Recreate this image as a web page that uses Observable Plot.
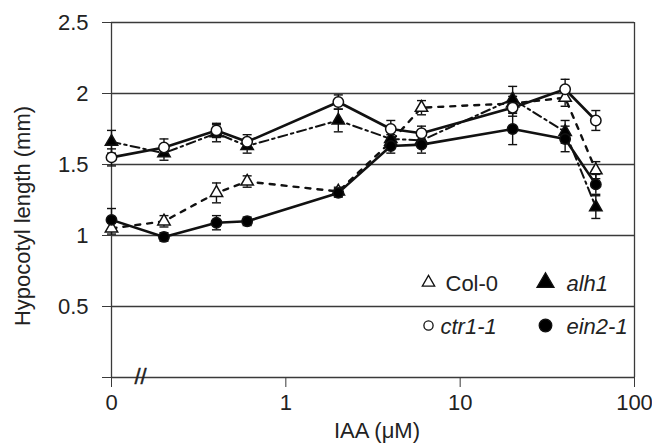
<!DOCTYPE html>
<html><head><meta charset="utf-8">
<script src="https://cdn.jsdelivr.net/npm/d3@7"></script>
<script src="https://cdn.jsdelivr.net/npm/@observablehq/plot@0.6"></script>
<style>
body{margin:0;background:#fff}
#chart{font-family:"Liberation Sans",Arial,sans-serif;width:652px;height:443px}
</style>
</head><body><div id="chart"></div>
<script>
// IAA concentrations (µM); 0 is drawn one decade below 1 on the log axis
const doses = [0, 0.2, 0.4, 0.6, 2, 4, 6, 20, 40, 60];
const col0 = [1.05, 1.10, 1.30, 1.38, 1.31, 1.66, 1.90, 1.93, 1.97, 1.46];
const col0Err = [0.04, 0.04, 0.07, 0.04, 0.03, 0.05, 0.05, 0.05, 0.06, 0.06];
const alh1 = [1.66, 1.58, 1.72, 1.63, 1.81, 1.68, 1.67, 1.96, 1.73, 1.20];
const alh1Err = [0.08, 0.05, 0.06, 0.05, 0.08, 0.05, 0.05, 0.09, 0.08, 0.08];
const ctr1 = [1.55, 1.62, 1.74, 1.66, 1.94, 1.75, 1.72, 1.90, 2.03, 1.81];
const ctr1Err = [0.06, 0.06, 0.05, 0.05, 0.05, 0.06, 0.05, 0.06, 0.07, 0.07];
const ein2 = [1.11, 0.99, 1.09, 1.10, 1.30, 1.63, 1.64, 1.75, 1.68, 1.36];
const ein2Err = [0.08, 0.03, 0.05, 0.03, 0.03, 0.05, 0.06, 0.11, 0.09, 0.07];
const xTickValues = [0, 1, 10, 100];
const xTickLabels = ["0", "1", "10", "100"];
const yTickValues = [0, 0.5, 1, 1.5, 2, 2.5];
const gridValues = [0.5, 1, 1.5, 2, 2.5];

const zeroPos = 0.1;
const xp = d => d === 0 ? zeroPos : d;

const series = [
  {name: "Col-0", values: col0, err: col0Err, symbol: "triangle", fill: "white", dash: "5,7", width: 2.4, italic: false},
  {name: "alh1", values: alh1, err: alh1Err, symbol: "triangle", fill: "black", dash: "9,4,2.5,4", width: 2, italic: true},
  {name: "ctr1-1", values: ctr1, err: ctr1Err, symbol: "circle", fill: "white", dash: null, width: 2.6, italic: true},
  {name: "ein2-1", values: ein2, err: ein2Err, symbol: "circle", fill: "black", dash: null, width: 2.6, italic: true}
];

const rows = series.map(s => doses.map((d, i) => ({
  name: s.name, x: xp(d), y: s.values[i], lo: s.values[i] - s.err[i], hi: s.values[i] + s.err[i]
})));

const cap = {draw(ctx) { ctx.moveTo(-4.5, 0); ctx.lineTo(4.5, 0); }};

const marks = [
  Plot.ruleY(gridValues, {stroke: "#3a3a3a", strokeWidth: 1.3}),
  Plot.ruleX([100], {y1: 0, y2: 2.5, stroke: "#3a3a3a", strokeWidth: 1.3}),
  Plot.ruleX([zeroPos], {y1: 0, y2: 2.5, stroke: "#3a3a3a", strokeWidth: 1.3}),
  Plot.ruleY([0], {stroke: "#3a3a3a", strokeWidth: 1.3}),
  Plot.axisY({ticks: yTickValues, tickSize: 9, tickPadding: 14, fontSize: 22, label: null, tickFormat: d => d === 0 ? "" : String(d), stroke: "#3a3a3a"}),
  Plot.axisY({ticks: yTickValues, tickSize: -9, tickFormat: () => "", label: null, stroke: "#3a3a3a"}),
  Plot.axisX({ticks: xTickValues.map(xp), tickSize: 10, tickPadding: 7, fontSize: 22, label: null,
    tickFormat: d => xTickLabels[xTickValues.map(xp).indexOf(d)], stroke: "#3a3a3a"}),
  Plot.text(["//"], {frameAnchor: "bottom-left", dx: 29, dy: -1, fontSize: 22, fill: "#222", stroke: "#222", strokeWidth: 0.4,
    textAnchor: "middle", lineAnchor: "middle"}),
  Plot.text(["Hypocotyl length (mm)"], {frameAnchor: "left", dx: -89, dy: 16, rotate: -90, fontSize: 22, fill: "#222",
    textAnchor: "middle", lineAnchor: "middle"}),
  Plot.text(["IAA (μM)"], {frameAnchor: "bottom", dx: 4, dy: 53, fontSize: 22, fill: "#222",
    textAnchor: "middle", lineAnchor: "middle"})
];

// error bars
series.forEach((s, k) => {
  marks.push(Plot.ruleX(rows[k], {x: "x", y1: "lo", y2: "hi", stroke: "#111", strokeWidth: 1.4}));
  marks.push(Plot.dot(rows[k], {x: "x", y: "lo", symbol: cap, stroke: "#111", strokeWidth: 1.4, r: 4}));
  marks.push(Plot.dot(rows[k], {x: "x", y: "hi", symbol: cap, stroke: "#111", strokeWidth: 1.4, r: 4}));
});
// lines
series.forEach((s, k) => {
  marks.push(Plot.line(rows[k], {x: "x", y: "y", stroke: "#111", strokeWidth: s.width, strokeDasharray: s.dash}));
});
// symbols
series.forEach((s, k) => {
  marks.push(Plot.dot(rows[k], {x: "x", y: "y", symbol: s.symbol, fill: s.fill, stroke: "#111", strokeWidth: 1.5,
    r: s.symbol === "circle" ? 5.2 : 4.6}));
});

// legend (two rows, two columns, inside the plot area)
series.forEach((s, k) => {
  const col = k % 2, row = Math.floor(k / 2);
  const sx = 317 + col * 117, sy = 260 + row * 43;
  const open = s.fill === "white";
  marks.push(Plot.dot([s.name], {frameAnchor: "top-left", dx: sx, dy: sy, symbol: s.symbol, fill: s.fill, stroke: "#111",
    strokeWidth: 1.3, r: open ? 4.6 : 6.3}));
  marks.push(Plot.text([s.name], {frameAnchor: "top-left", dx: sx + (open ? 17 : 21) - (row === 1 && col === 0 ? 5 : 0), dy: sy + 1,
    text: d => d, textAnchor: "start", lineAnchor: "middle", fontSize: 22, fill: "#222", fontStyle: s.italic ? "italic" : "normal"}));
});

const chart = Plot.plot({
  width: 652, height: 443,
  marginTop: 22, marginBottom: 66, marginLeft: 111, marginRight: 18,
  style: {fontFamily: '"Liberation Sans", Arial, sans-serif', background: "white", color: "#222"},
  x: {type: "log", domain: [zeroPos, 100]},
  y: {domain: [0, 2.5]},
  marks
});
document.getElementById("chart").appendChild(chart);
</script>
</body></html>
